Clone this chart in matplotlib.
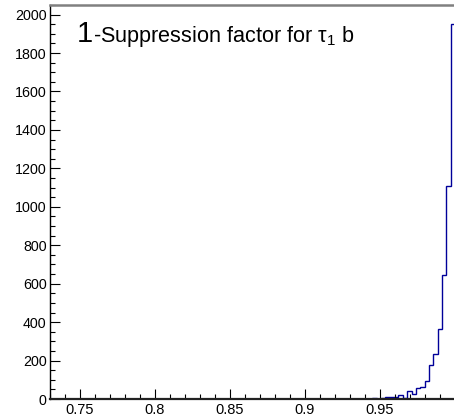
import numpy as np
import matplotlib
matplotlib.use("Agg")
import matplotlib.pyplot as plt
from matplotlib.ticker import MultipleLocator

plt.rcParams['font.family'] = ['Liberation Sans', 'DejaVu Sans']
plt.rcParams['mathtext.fontset'] = 'custom'
plt.rcParams['mathtext.rm'] = 'Liberation Sans'
plt.rcParams['mathtext.it'] = 'Liberation Sans:italic'

# ---- data ----
hist_lo = 0.71
hist_hi = 1.0
n_bins = 100
# counts for bins 70..99 (earlier bins are empty)
tail_counts = [1, 0, 1, 1, 0, 1, 1, 2, 1, 2,
               1, 3, 2, 3, 11, 13, 12, 19, 7, 43,
               28, 55, 65, 92, 175, 235, 362, 645, 1110, 1950]
counts = [0] * (n_bins - len(tail_counts)) + tail_counts

x_ticks = [0.75, 0.8, 0.85, 0.9, 0.95]
x_tick_labels = ["0.75", "0.8", "0.85", "0.9", "0.95"]
y_ticks = [0, 200, 400, 600, 800, 1000, 1200, 1400, 1600, 1800, 2000]

W, H = 454, 419
fig = plt.figure(figsize=(W / 100, H / 100), dpi=100)
left_px, right_px, top_px, bot_px = 50, 455, 5, 399
ax = fig.add_axes([left_px / W, 1 - bot_px / H, (right_px - left_px) / W, (bot_px - top_px) / H])

edges = np.linspace(hist_lo, hist_hi, n_bins + 1)
ax.stairs(counts, edges, color='#000099', lw=1.0, baseline=0)

ax.set_xlim(0.73, 1.0)
ax.set_ylim(0, 2050)
ax.set_xticks(x_ticks)
ax.set_xticklabels(x_tick_labels)
ax.set_yticks(y_ticks)
ax.xaxis.set_minor_locator(MultipleLocator(0.01))
ax.yaxis.set_minor_locator(MultipleLocator(50))

ax.tick_params(which='major', direction='in', length=7.2, width=0.8, labelsize=10.5,
               top=False, right=False, color='black', pad=3)
ax.tick_params(which='minor', direction='in', length=3.6, width=0.8, top=False, right=False)
ax.tick_params(axis='y', which='major', pad=2.5, labelsize=10.3)

ax.spines['left'].set_linewidth(1.0)
ax.spines['left'].set_color('black')
ax.spines['bottom'].set_linewidth(1.6)
ax.spines['bottom'].set_color('#222222')
ax.spines['top'].set_linewidth(1.8)
ax.spines['top'].set_color('#808080')
ax.spines['right'].set_visible(False)

fig.text(77 / W, 1 - 42 / H, "1", fontsize=21, ha='left', va='baseline')
fig.text(93 / W, 1 - 42 / H, r"-Suppression factor for $\mathregular{\tau_1}$ b",
         fontsize=15.6, ha='left', va='baseline')

fig.savefig("out.png", dpi=100)
